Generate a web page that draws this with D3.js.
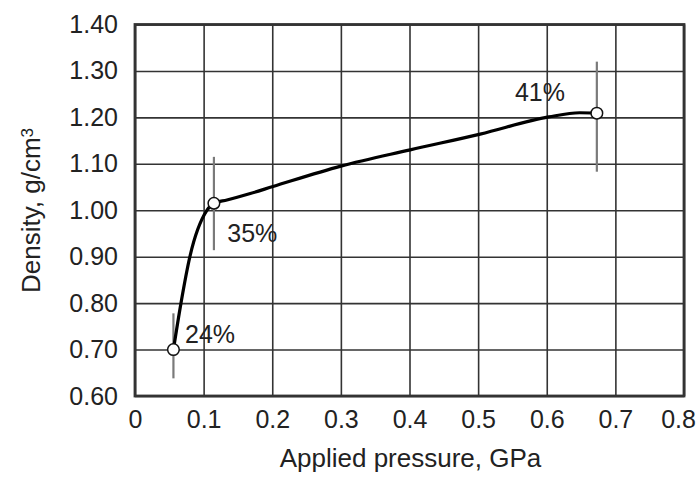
<!DOCTYPE html>
<html>
<head>
<meta charset="utf-8">
<script src="https://cdn.jsdelivr.net/npm/d3@7"></script>
<style>
  html, body { margin: 0; padding: 0; background: #fff; }
  svg { display: block; font-family: "Liberation Sans", Arial, Helvetica, sans-serif; }
</style>
</head>
<body>
<svg id="chart" width="699" height="478"></svg>
<script>
// ---- data ----
const xTicks = [0, 0.1, 0.2, 0.3, 0.4, 0.5, 0.6, 0.7, 0.8];
const xTickLabels = ["0", "0.1", "0.2", "0.3", "0.4", "0.5", "0.6", "0.7", "0.8"];
const yTicks = [0.6, 0.7, 0.8, 0.9, 1.0, 1.1, 1.2, 1.3, 1.4];
const yTickLabels = ["0.60", "0.70", "0.80", "0.90", "1.00", "1.10", "1.20", "1.30", "1.40"];

// measured points (pressure GPa, density g/cm3)
const pointPressure = [0.056, 0.115, 0.673];
const pointDensity = [0.70, 1.015, 1.209];
const errLow = [0.638, 0.914, 1.083];
const errHigh = [0.778, 1.115, 1.320];
const pointLabels = ["24%", "35%", "41%"];
const labelPressure = [0.0729, 0.1345, 0.5537];
const labelDensity = [0.714, 0.932, 1.236];

// fitted curve
const curvePressure = [0.056, 0.067, 0.080, 0.1045, 0.115, 0.134, 0.168, 0.201, 0.300, 0.401, 0.503, 0.603, 0.648, 0.673];
const curveDensity  = [0.700, 0.800, 0.900, 0.999, 1.015, 1.022, 1.036, 1.051, 1.095, 1.130, 1.164, 1.201, 1.210, 1.209];

const xTitle = "Applied pressure, GPa";

// ---- layout ----
const svg = d3.select("#chart");
const mLeft = 135, mRight = 684, mTop = 24.5, mBottom = 396;
const x = d3.scaleLinear().domain([0, 0.8]).range([mLeft, mRight]);
const y = d3.scaleLinear().domain([0.6, 1.4]).range([mBottom, mTop]);
const textColor = "#222";

// grid via axes
const gx = svg.append("g").attr("transform", `translate(0,${mBottom})`)
  .call(d3.axisBottom(x).tickValues(xTicks).tickSize(-(mBottom - mTop)).tickFormat((d, i) => xTickLabels[i]));
gx.select(".domain").remove();
gx.selectAll(".tick line").attr("stroke", "#333").attr("stroke-width", 1.6);
gx.selectAll(".tick text").attr("fill", textColor).attr("font-size", 25)
  .attr("y", 32).attr("dy", 0).attr("font-family", "Liberation Sans, Arial, sans-serif")
  .attr("dx", (d, i) => i === xTicks.length - 1 ? -6 : 0);

const gy = svg.append("g").attr("transform", `translate(${mLeft},0)`)
  .call(d3.axisLeft(y).tickValues(yTicks).tickSize(-(mRight - mLeft)).tickFormat((d, i) => yTickLabels[i]));
gy.select(".domain").remove();
gy.selectAll(".tick line").attr("stroke", "#333").attr("stroke-width", 1.6);
gy.selectAll(".tick text").attr("fill", textColor).attr("font-size", 25)
  .attr("x", -17).attr("dy", "0.32em").attr("font-family", "Liberation Sans, Arial, sans-serif");

// frame
svg.append("rect").attr("x", mLeft).attr("y", mTop).attr("width", mRight - mLeft).attr("height", mBottom - mTop)
  .attr("fill", "none").attr("stroke", "#333").attr("stroke-width", 2.8);

// error bars
const pts = pointPressure.map((p, i) => ({ p, d: pointDensity[i], lo: errLow[i], hi: errHigh[i], label: pointLabels[i], lp: labelPressure[i], ld: labelDensity[i] }));
svg.append("g").selectAll("line").data(pts).join("line")
  .attr("x1", d => x(d.p)).attr("x2", d => x(d.p))
  .attr("y1", d => y(d.lo)).attr("y2", d => y(d.hi))
  .attr("stroke", "#7a7a7a").attr("stroke-width", 2.2);

// curve
const curveData = curvePressure.map((p, i) => [p, curveDensity[i]]);
svg.append("path").datum(curveData)
  .attr("d", d3.line().x(d => x(d[0])).y(d => y(d[1])).curve(d3.curveMonotoneX))
  .attr("fill", "none").attr("stroke", "#000").attr("stroke-width", 3.2).attr("stroke-linejoin", "round");

// markers
svg.append("g").selectAll("circle").data(pts).join("circle")
  .attr("cx", d => x(d.p)).attr("cy", d => y(d.d)).attr("r", 5.8)
  .attr("fill", "#fff").attr("stroke", "#111").attr("stroke-width", 1.5);

// labels
svg.append("g").selectAll("text").data(pts).join("text")
  .attr("x", d => x(d.lp)).attr("y", d => y(d.ld))
  .attr("font-size", 25).attr("fill", textColor).text(d => d.label);

// axis titles
svg.append("text").attr("x", (mLeft + mRight) / 2 + 1).attr("y", 467)
  .attr("text-anchor", "middle").attr("font-size", 26).attr("fill", textColor).text(xTitle);

const yt = svg.append("text").attr("transform", "translate(40,293) rotate(-90)")
  .attr("text-anchor", "start").attr("font-size", 26).attr("fill", textColor);
yt.append("tspan").text("Density, g/cm");
yt.append("tspan").attr("dy", "-0.42em").attr("font-size", 17).text("3");
</script>
</body>
</html>
